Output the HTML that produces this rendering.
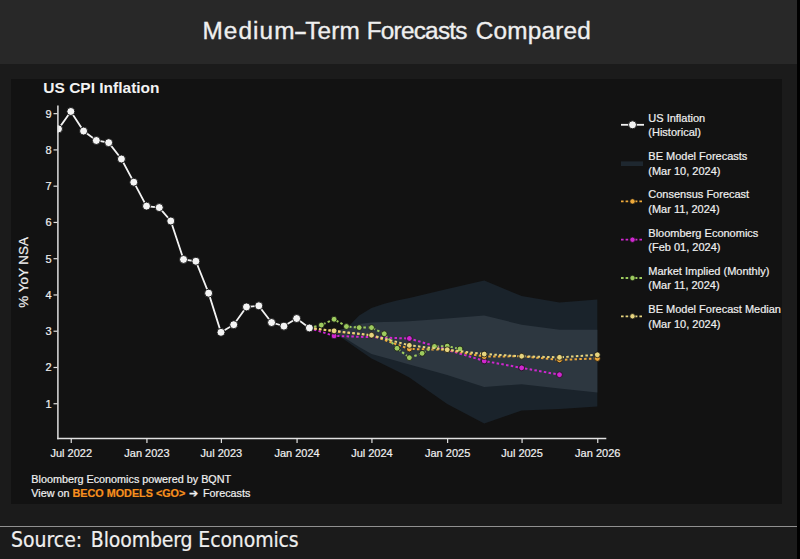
<!DOCTYPE html>
<html><head><meta charset="utf-8"><style>
html,body{margin:0;padding:0;}
body{width:800px;height:559px;overflow:hidden;background:#1b1b1b;position:relative;font-family:"Liberation Sans",sans-serif;}
#hdr{position:absolute;left:0;top:0;width:797px;height:64px;background:#282828;}
#panel{position:absolute;left:11px;top:79px;width:771px;height:425px;background:#121212;}
#sep{position:absolute;left:0;top:526px;width:797px;height:1px;background:#909090;}
#strip{position:absolute;left:797px;top:0;width:3px;height:559px;background:#000;}
svg{position:absolute;left:0;top:0;}
.tk{font-size:11px;fill:#f0f0f0;stroke:#f0f0f0;stroke-width:0.2px;}
.ttl{font-size:15.5px;font-weight:bold;fill:#f2f2f2;}
.lg{font-size:11px;fill:#f0f0f0;stroke:#f0f0f0;stroke-width:0.2px;}
.ft{font-size:10.8px;fill:#f0f0f0;stroke:#f0f0f0;stroke-width:0.2px;}
.hd{font-size:24.35px;fill:#efefef;stroke:#efefef;stroke-width:0.35px;}
.src{font-size:21px;fill:#efefef;stroke:#efefef;stroke-width:0.2px;font-family:"DejaVu Sans Condensed","DejaVu Sans",sans-serif;font-stretch:condensed;}
.go{fill:#f7901e;stroke:#f7901e;font-weight:bold;}
</style></head><body>
<div id="hdr"></div>
<div id="panel"></div>
<svg width="800" height="559" viewBox="0 0 800 559">
<defs><clipPath id="pc"><rect x="57.5" y="104" width="549" height="335"/></clipPath></defs>
<polygon points="334.09,331.00 346.43,328.50 359.18,315.50 371.52,308.00 384.27,303.80 397.02,300.60 409.36,298.00 447.21,289.00 484.23,280.60 521.66,296.00 559.50,302.50 597.34,299.40 597.34,406.50 559.50,409.00 521.66,410.50 484.23,423.60 447.21,404.00 409.36,377.50 397.02,371.10 384.27,364.80 371.52,358.50 359.18,350.00 346.43,341.00 334.09,333.00" fill="#1a232b"/>
<polygon points="334.09,331.00 346.43,328.50 359.18,324.00 371.52,322.50 384.27,322.10 397.02,321.70 409.36,321.30 447.21,318.50 484.23,315.60 521.66,324.70 559.50,329.80 597.34,329.80 597.34,392.40 559.50,388.50 521.66,384.20 484.23,387.00 447.21,375.00 409.36,364.50 397.02,361.00 384.27,357.50 371.52,354.00 359.18,347.00 346.43,339.00 334.09,332.50" fill="#2d3740"/>
<polyline points="309.41,327.96 334.09,335.93 409.36,338.47 484.23,360.95 521.66,367.84 559.50,374.73" fill="none" stroke="#cf27cf" stroke-width="2" stroke-dasharray="2.5,2.3"/>
<circle cx="334.09" cy="335.93" r="2.9" fill="#cf27cf" stroke="#121212" stroke-width="0.8"/>
<circle cx="409.36" cy="338.47" r="2.9" fill="#cf27cf" stroke="#121212" stroke-width="0.8"/>
<circle cx="484.23" cy="360.95" r="2.9" fill="#cf27cf" stroke="#121212" stroke-width="0.8"/>
<circle cx="521.66" cy="367.84" r="2.9" fill="#cf27cf" stroke="#121212" stroke-width="0.8"/>
<circle cx="559.50" cy="374.73" r="2.9" fill="#cf27cf" stroke="#121212" stroke-width="0.8"/>
<polyline points="309.41,327.96 334.09,331.22 371.52,335.21 409.36,348.99 447.21,349.71 484.23,356.60 521.66,356.24 559.50,359.87 597.34,358.42" fill="none" stroke="#eea93a" stroke-width="2" stroke-dasharray="2.5,2.3"/>
<circle cx="334.09" cy="331.22" r="2.9" fill="#eea93a" stroke="#121212" stroke-width="0.8"/>
<circle cx="371.52" cy="335.21" r="2.9" fill="#eea93a" stroke="#121212" stroke-width="0.8"/>
<circle cx="409.36" cy="348.99" r="2.9" fill="#eea93a" stroke="#121212" stroke-width="0.8"/>
<circle cx="447.21" cy="349.71" r="2.9" fill="#eea93a" stroke="#121212" stroke-width="0.8"/>
<circle cx="484.23" cy="356.60" r="2.9" fill="#eea93a" stroke="#121212" stroke-width="0.8"/>
<circle cx="521.66" cy="356.24" r="2.9" fill="#eea93a" stroke="#121212" stroke-width="0.8"/>
<circle cx="559.50" cy="359.87" r="2.9" fill="#eea93a" stroke="#121212" stroke-width="0.8"/>
<circle cx="597.34" cy="358.42" r="2.9" fill="#eea93a" stroke="#121212" stroke-width="0.8"/>
<polyline points="309.41,327.96 321.34,325.06 334.09,319.25 346.43,326.51 359.18,327.59 371.52,327.59 384.27,333.76 397.02,348.26 409.36,357.69 422.11,353.34 434.45,346.45 447.21,346.09 459.96,348.99" fill="none" stroke="#9dcb5e" stroke-width="2" stroke-dasharray="2.5,2.3"/>
<circle cx="321.34" cy="325.06" r="2.9" fill="#9dcb5e" stroke="#121212" stroke-width="0.8"/>
<circle cx="334.09" cy="319.25" r="2.9" fill="#9dcb5e" stroke="#121212" stroke-width="0.8"/>
<circle cx="346.43" cy="326.51" r="2.9" fill="#9dcb5e" stroke="#121212" stroke-width="0.8"/>
<circle cx="359.18" cy="327.59" r="2.9" fill="#9dcb5e" stroke="#121212" stroke-width="0.8"/>
<circle cx="371.52" cy="327.59" r="2.9" fill="#9dcb5e" stroke="#121212" stroke-width="0.8"/>
<circle cx="384.27" cy="333.76" r="2.9" fill="#9dcb5e" stroke="#121212" stroke-width="0.8"/>
<circle cx="397.02" cy="348.26" r="2.9" fill="#9dcb5e" stroke="#121212" stroke-width="0.8"/>
<circle cx="409.36" cy="357.69" r="2.9" fill="#9dcb5e" stroke="#121212" stroke-width="0.8"/>
<circle cx="422.11" cy="353.34" r="2.9" fill="#9dcb5e" stroke="#121212" stroke-width="0.8"/>
<circle cx="434.45" cy="346.45" r="2.9" fill="#9dcb5e" stroke="#121212" stroke-width="0.8"/>
<circle cx="447.21" cy="346.09" r="2.9" fill="#9dcb5e" stroke="#121212" stroke-width="0.8"/>
<circle cx="459.96" cy="348.99" r="2.9" fill="#9dcb5e" stroke="#121212" stroke-width="0.8"/>
<polyline points="309.41,327.96 334.09,330.86 371.52,335.21 409.36,345.36 447.21,349.71 484.23,354.06 521.66,356.24 559.50,357.33 597.34,354.79" fill="none" stroke="#e6d47e" stroke-width="2" stroke-dasharray="2.5,2.3"/>
<circle cx="334.09" cy="330.86" r="2.9" fill="#e6d47e" stroke="#121212" stroke-width="0.8"/>
<circle cx="371.52" cy="335.21" r="2.9" fill="#e6d47e" stroke="#121212" stroke-width="0.8"/>
<circle cx="409.36" cy="345.36" r="2.9" fill="#e6d47e" stroke="#121212" stroke-width="0.8"/>
<circle cx="447.21" cy="349.71" r="2.9" fill="#e6d47e" stroke="#121212" stroke-width="0.8"/>
<circle cx="484.23" cy="354.06" r="2.9" fill="#e6d47e" stroke="#121212" stroke-width="0.8"/>
<circle cx="521.66" cy="356.24" r="2.9" fill="#e6d47e" stroke="#121212" stroke-width="0.8"/>
<circle cx="559.50" cy="357.33" r="2.9" fill="#e6d47e" stroke="#121212" stroke-width="0.8"/>
<circle cx="597.34" cy="354.79" r="2.9" fill="#e6d47e" stroke="#121212" stroke-width="0.8"/>
<g clip-path="url(#pc)"><polyline points="58.50,128.89 70.84,111.48 83.59,131.06 96.34,140.49 108.68,142.67 121.43,158.99 133.77,182.19 146.52,206.12 159.27,207.57 170.79,220.99 183.54,259.43 195.88,261.24 208.63,293.15 220.97,332.31 233.73,324.69 246.48,306.93 258.82,305.84 271.57,322.52 283.91,326.14 296.66,318.53 309.41,327.96" fill="none" stroke="#f2f2f2" stroke-width="1.8"/>
<circle cx="58.50" cy="128.89" r="4.0" fill="#f4f4f4" stroke="#121212" stroke-width="0.9"/>
<circle cx="70.84" cy="111.48" r="4.0" fill="#f4f4f4" stroke="#121212" stroke-width="0.9"/>
<circle cx="83.59" cy="131.06" r="4.0" fill="#f4f4f4" stroke="#121212" stroke-width="0.9"/>
<circle cx="96.34" cy="140.49" r="4.0" fill="#f4f4f4" stroke="#121212" stroke-width="0.9"/>
<circle cx="108.68" cy="142.67" r="4.0" fill="#f4f4f4" stroke="#121212" stroke-width="0.9"/>
<circle cx="121.43" cy="158.99" r="4.0" fill="#f4f4f4" stroke="#121212" stroke-width="0.9"/>
<circle cx="133.77" cy="182.19" r="4.0" fill="#f4f4f4" stroke="#121212" stroke-width="0.9"/>
<circle cx="146.52" cy="206.12" r="4.0" fill="#f4f4f4" stroke="#121212" stroke-width="0.9"/>
<circle cx="159.27" cy="207.57" r="4.0" fill="#f4f4f4" stroke="#121212" stroke-width="0.9"/>
<circle cx="170.79" cy="220.99" r="4.0" fill="#f4f4f4" stroke="#121212" stroke-width="0.9"/>
<circle cx="183.54" cy="259.43" r="4.0" fill="#f4f4f4" stroke="#121212" stroke-width="0.9"/>
<circle cx="195.88" cy="261.24" r="4.0" fill="#f4f4f4" stroke="#121212" stroke-width="0.9"/>
<circle cx="208.63" cy="293.15" r="4.0" fill="#f4f4f4" stroke="#121212" stroke-width="0.9"/>
<circle cx="220.97" cy="332.31" r="4.0" fill="#f4f4f4" stroke="#121212" stroke-width="0.9"/>
<circle cx="233.73" cy="324.69" r="4.0" fill="#f4f4f4" stroke="#121212" stroke-width="0.9"/>
<circle cx="246.48" cy="306.93" r="4.0" fill="#f4f4f4" stroke="#121212" stroke-width="0.9"/>
<circle cx="258.82" cy="305.84" r="4.0" fill="#f4f4f4" stroke="#121212" stroke-width="0.9"/>
<circle cx="271.57" cy="322.52" r="4.0" fill="#f4f4f4" stroke="#121212" stroke-width="0.9"/>
<circle cx="283.91" cy="326.14" r="4.0" fill="#f4f4f4" stroke="#121212" stroke-width="0.9"/>
<circle cx="296.66" cy="318.53" r="4.0" fill="#f4f4f4" stroke="#121212" stroke-width="0.9"/>
<circle cx="309.41" cy="327.96" r="4.0" fill="#f4f4f4" stroke="#121212" stroke-width="0.9"/>
</g>
<line x1="57.9" y1="105.6" x2="57.9" y2="439.2" stroke="#e0e0e0" stroke-width="1.5"/>
<line x1="57.2" y1="438.5" x2="606.3" y2="438.5" stroke="#e0e0e0" stroke-width="1.5"/>
<line x1="53.5" y1="403.74" x2="57.5" y2="403.74" stroke="#e0e0e0" stroke-width="1.2"/>
<text x="51.5" y="407.74" text-anchor="end" class="tk">1</text>
<line x1="53.5" y1="367.48" x2="57.5" y2="367.48" stroke="#e0e0e0" stroke-width="1.2"/>
<text x="51.5" y="371.48" text-anchor="end" class="tk">2</text>
<line x1="53.5" y1="331.22" x2="57.5" y2="331.22" stroke="#e0e0e0" stroke-width="1.2"/>
<text x="51.5" y="335.22" text-anchor="end" class="tk">3</text>
<line x1="53.5" y1="294.96" x2="57.5" y2="294.96" stroke="#e0e0e0" stroke-width="1.2"/>
<text x="51.5" y="298.96" text-anchor="end" class="tk">4</text>
<line x1="53.5" y1="258.70" x2="57.5" y2="258.70" stroke="#e0e0e0" stroke-width="1.2"/>
<text x="51.5" y="262.70" text-anchor="end" class="tk">5</text>
<line x1="53.5" y1="222.44" x2="57.5" y2="222.44" stroke="#e0e0e0" stroke-width="1.2"/>
<text x="51.5" y="226.44" text-anchor="end" class="tk">6</text>
<line x1="53.5" y1="186.18" x2="57.5" y2="186.18" stroke="#e0e0e0" stroke-width="1.2"/>
<text x="51.5" y="190.18" text-anchor="end" class="tk">7</text>
<line x1="53.5" y1="149.92" x2="57.5" y2="149.92" stroke="#e0e0e0" stroke-width="1.2"/>
<text x="51.5" y="153.92" text-anchor="end" class="tk">8</text>
<line x1="53.5" y1="113.66" x2="57.5" y2="113.66" stroke="#e0e0e0" stroke-width="1.2"/>
<text x="51.5" y="117.66" text-anchor="end" class="tk">9</text>
<line x1="71.25" y1="438.5" x2="71.25" y2="443" stroke="#e0e0e0" stroke-width="1.2"/>
<text x="71.25" y="456.5" text-anchor="middle" class="tk">Jul 2022</text>
<line x1="146.93" y1="438.5" x2="146.93" y2="443" stroke="#e0e0e0" stroke-width="1.2"/>
<text x="146.93" y="456.5" text-anchor="middle" class="tk">Jan 2023</text>
<line x1="221.39" y1="438.5" x2="221.39" y2="443" stroke="#e0e0e0" stroke-width="1.2"/>
<text x="221.39" y="456.5" text-anchor="middle" class="tk">Jul 2023</text>
<line x1="297.07" y1="438.5" x2="297.07" y2="443" stroke="#e0e0e0" stroke-width="1.2"/>
<text x="297.07" y="456.5" text-anchor="middle" class="tk">Jan 2024</text>
<line x1="371.93" y1="438.5" x2="371.93" y2="443" stroke="#e0e0e0" stroke-width="1.2"/>
<text x="371.93" y="456.5" text-anchor="middle" class="tk">Jul 2024</text>
<line x1="447.62" y1="438.5" x2="447.62" y2="443" stroke="#e0e0e0" stroke-width="1.2"/>
<text x="447.62" y="456.5" text-anchor="middle" class="tk">Jan 2025</text>
<line x1="522.07" y1="438.5" x2="522.07" y2="443" stroke="#e0e0e0" stroke-width="1.2"/>
<text x="522.07" y="456.5" text-anchor="middle" class="tk">Jul 2025</text>
<line x1="597.75" y1="438.5" x2="597.75" y2="443" stroke="#e0e0e0" stroke-width="1.2"/>
<text x="597.75" y="456.5" text-anchor="middle" class="tk">Jan 2026</text>
<text transform="translate(27.8,272.4) rotate(-90)" text-anchor="middle" class="tk" style="font-size:13.4px">% YoY NSA</text>
<text x="43.3" y="93.2" class="ttl">US CPI Inflation</text>
<line x1="621" y1="124.80" x2="644" y2="124.80" stroke="#f2f2f2" stroke-width="1.8"/>
<circle cx="632.5" cy="124.80" r="4.0" fill="#f4f4f4" stroke="#121212" stroke-width="0.9"/>
<text x="648.3" y="121.60" class="lg">US Inflation</text>
<text x="648.3" y="136.20" class="lg">(Historical)</text>
<rect x="621" y="161.40" width="22" height="4.6" fill="#1e272f"/>
<text x="648.3" y="159.90" class="lg">BE Model Forecasts</text>
<text x="648.3" y="174.50" class="lg">(Mar 10, 2024)</text>
<line x1="621" y1="201.40" x2="642.2" y2="201.40" stroke="#eea93a" stroke-width="1.8" stroke-dasharray="2.6,2"/>
<circle cx="632.5" cy="201.40" r="2.7" fill="#eea93a" stroke="#121212" stroke-width="0.8"/>
<text x="648.3" y="198.20" class="lg">Consensus Forecast</text>
<text x="648.3" y="212.80" class="lg">(Mar 11, 2024)</text>
<line x1="621" y1="239.70" x2="642.2" y2="239.70" stroke="#cf27cf" stroke-width="1.8" stroke-dasharray="2.6,2"/>
<circle cx="632.5" cy="239.70" r="2.7" fill="#cf27cf" stroke="#121212" stroke-width="0.8"/>
<text x="648.3" y="236.50" class="lg">Bloomberg Economics</text>
<text x="648.3" y="251.10" class="lg">(Feb 01, 2024)</text>
<line x1="621" y1="278.00" x2="642.2" y2="278.00" stroke="#9dcb5e" stroke-width="1.8" stroke-dasharray="2.6,2"/>
<circle cx="632.5" cy="278.00" r="2.7" fill="#9dcb5e" stroke="#121212" stroke-width="0.8"/>
<text x="648.3" y="274.80" class="lg">Market Implied (Monthly)</text>
<text x="648.3" y="289.40" class="lg">(Mar 11, 2024)</text>
<line x1="621" y1="316.30" x2="642.2" y2="316.30" stroke="#e6d47e" stroke-width="1.8" stroke-dasharray="2.6,2"/>
<circle cx="632.5" cy="316.30" r="2.7" fill="#e6d47e" stroke="#121212" stroke-width="0.8"/>
<text x="648.3" y="313.10" class="lg">BE Model Forecast Median</text>
<text x="648.3" y="327.70" class="lg">(Mar 10, 2024)</text>
<text x="31.3" y="482.6" class="ft">Bloomberg Economics powered by BQNT</text>
<text x="31.3" y="497" class="ft">View on <tspan class="go">BECO MODELS &lt;GO&gt;</tspan><tspan x="189.4">➔</tspan><tspan x="203">Forecasts</tspan></text>
<text y="39" class="hd"><tspan x="202.5" textLength="91.99" lengthAdjust="spacing">Medium</tspan><tspan x="305.2" textLength="54.51" lengthAdjust="spacing">Term</tspan> <tspan x="366.7" textLength="100.77" lengthAdjust="spacing">Forecasts</tspan> <tspan x="475.75" textLength="115.17" lengthAdjust="spacing">Compared</tspan></text>
<text transform="matrix(0.77,0,0,1.2,295.3,40.6)" class="hd">–</text>
<text x="11" y="547" class="src">Source:<tspan x="90.8" style="letter-spacing:-0.12px">Bloomberg Economics</tspan></text>
</svg>
<div id="sep"></div>
<div id="strip"></div>
</body></html>
